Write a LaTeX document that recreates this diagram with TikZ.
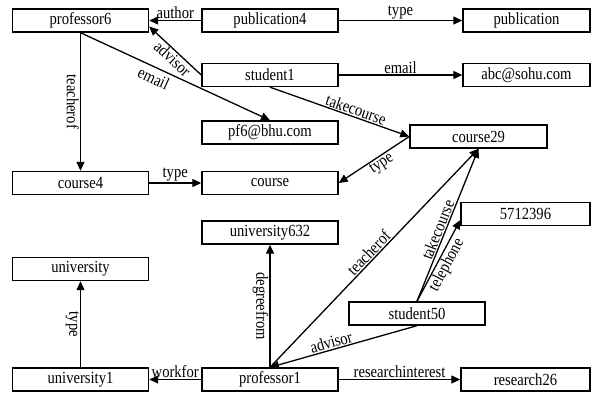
\documentclass[tikz,border=0pt]{standalone}
\usepackage{fontspec}
\setmainfont[FakeStretch=0.86]{Liberation Serif}
\usetikzlibrary{arrows.meta}

\begin{document}
\begin{tikzpicture}[x=1pt,y=-1pt,
    box/.style={draw,line width=1.4pt,minimum height=23pt,minimum width=136pt,inner sep=0pt,font=\fontsize{17}{18}\selectfont},
    arr/.style={line width=1.3pt,-{Triangle[length=9pt,width=8pt]}},
    lbl/.style={font=\fontsize{17}{18}\selectfont,inner sep=1pt}]
    \useasboundingbox (0,0) rectangle (592,392);

    \node[box] (prof6) at (80.5,20.5) {professor6};
    \node[box] (pub4) at (270,20.5) {publication4};
    \node[box,minimum width=127pt] (pub) at (526.5,20.5) {publication};
    \node[box] (stu1) at (270,75) {student1};
    \node[box,minimum width=127pt] (abc) at (526.5,75) {abc@sohu.com};
    \node[box] (pf6) at (270,132.5) {pf6@bhu.com};
    \node[box,minimum width=137pt] (c29) at (478.5,136.5) {course29};
    \node[box] (c4) at (80.5,183) {course4};
    \node[box] (course) at (270,183) {course};
    \node[box] (u632) at (270,232.5) {university632};
    \node[box] (univ) at (80.5,269) {university};
    \node[box,minimum width=129pt] (tel) at (525.5,214) {5712396};
    \node[box] (stu50) at (417,313.5) {student50};
    \node[box] (u1) at (80.5,379.5) {university1};
    \node[box] (prof1) at (270,379.5) {professor1};
    \node[box,minimum width=129pt] (r26) at (525.5,379.5) {research26};

    \draw[arr] (pub4) -- node[lbl,above]{author} (prof6);
    \draw[arr] (pub4) -- node[lbl,above]{type} (pub);
    \draw[arr] (stu1.west) -- node[lbl,below,sloped,pos=0.45]{advisor} ([yshift=-6pt]prof6.east);
    \draw[arr] (prof6.south) -- node[lbl,below=3pt,sloped,pos=0.41]{email} (pf6.north);
    \draw[arr] (prof6.south) -- node[lbl,rotate=-90,anchor=north]{teacherof} (c4.north);
    \draw[arr] (stu1) -- node[lbl,above]{email} (abc);
    \draw[arr] (stu1.south) -- node[lbl,above,sloped,pos=0.6]{takecourse} (c29.west);
    \draw[arr] (c29.west) -- node[lbl,below,sloped,pos=0.45]{type} (course.east);
    \draw[arr] (c4) -- node[lbl,above]{type} (course);

    \draw[arr] (prof1.north) -- node[lbl,rotate=-90,anchor=north]{degreefrom} (u632.south);
    \draw[arr] (u1.north) -- node[lbl,rotate=-90,anchor=north]{type} (univ.south);
    \draw[arr] (prof1) -- node[lbl,above]{workfor} (u1);
    \draw[arr] (prof1) -- node[lbl,above]{researchinterest} (r26);
    \draw[arr] (prof1.north) -- node[lbl,above,sloped,pos=0.5]{teacherof} (c29.south);
    \draw[arr] (stu50.north) -- node[lbl,above,sloped,pos=0.45]{takecourse} (c29.south);
    \draw[arr] (stu50.north) -- node[lbl,below,sloped,pos=0.5]{telephone} ([yshift=-6pt]tel.west);
    \draw[arr] (stu50.south) -- node[lbl,above,sloped,pos=0.57]{advisor} (prof1.north);
\end{tikzpicture}
\end{document}
